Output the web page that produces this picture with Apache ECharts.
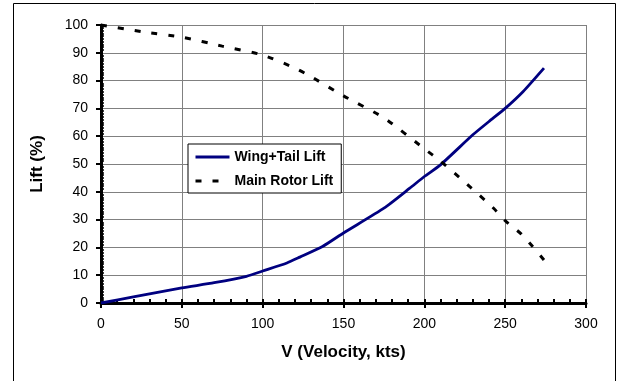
<!DOCTYPE html>
<html lang="en">

<head>
  <meta charset="UTF-8">
  <title>Lift vs Velocity</title>
  <script src="https://cdn.jsdelivr.net/npm/echarts@6/dist/echarts.min.js"></script>
  <style>
    html, body { margin: 0; padding: 0; background: #fff; }
  </style>
</head>

<body>
  <div id="main" style="width: 622px;height:381px;"></div>
  <script>
    var myChart = echarts.init(document.getElementById('main'));
    var font = "'Liberation Sans', Arial, sans-serif";

    // 读图估计的数据 (kts, %)
    var wingVel = [0, 20, 50, 70, 90, 100, 115, 123, 137, 150, 175, 191, 200, 210, 230, 240, 250, 261, 274];
    var wingLift = [0, 2.2, 5.4, 7.3, 9.6, 11.5, 14.4, 16.5, 20.3, 25.2, 34.1, 41.3, 45.5, 49.7, 60.5, 65.3, 70, 76, 84.5];
    var rotorVel = [0, 25, 50, 75, 100, 120, 130, 150, 175, 200, 210, 225, 243, 250, 260, 267, 274];
    var rotorLift = [100, 97.6, 95.6, 92.4, 89.2, 84.5, 81.4, 74.5, 66.6, 55.5, 51, 43.5, 34, 29.6, 24.8, 20.3, 15.5];
    var seriesNames = ['Wing+Tail Lift', 'Main Rotor Lift'];

    function pairs(xs, ys) {
      return xs.map(function (x, i) { return [x, ys[i]]; });
    }

    var option = {
      animation: false,
      textStyle: { fontFamily: font },
      grid: { left: 101, top: 25, right: 36, bottom: 78 },
      legend: {
        orient: 'vertical',
        left: 188,
        top: 144,
        padding: [6, 8, 5, 6],
        itemWidth: 34,
        itemHeight: 14,
        itemGap: 10,
        backgroundColor: '#fff',
        borderColor: '#000',
        borderWidth: 1,
        borderRadius: 0,
        itemStyle: { opacity: 0 }, // 图例里不要圆点
        lineStyle: { width: 3 },
        textStyle: { fontFamily: font, fontSize: 14, fontWeight: 'bold', color: '#000' },
        data: seriesNames
      },
      xAxis: [
        {
          type: 'value', min: 0, max: 300, interval: 50,
          name: 'V (Velocity, kts)', nameLocation: 'middle', nameGap: 41,
          nameTextStyle: { fontFamily: font, fontSize: 17, fontWeight: 'bold', color: '#000' },
          axisLine: { onZero: false, lineStyle: { color: '#000', width: 3 } },
          axisTick: { length: 5, lineStyle: { color: '#000', width: 2 } },
          axisLabel: { fontFamily: font, fontSize: 14, color: '#000', margin: 14 },
          splitLine: { lineStyle: { color: '#808080', width: 1 } }
        },
        {
          type: 'value', min: 0, max: 300, interval: 50, position: 'bottom',
          axisLine: { show: false },
          axisTick: { inside: true, length: 4, lineStyle: { color: '#000', width: 2 } },
          minorTick: { show: true, splitNumber: 5, length: 4, lineStyle: { color: '#000', width: 2 } },
          axisLabel: { show: false },
          splitLine: { show: false }
        }
      ],
      yAxis: [
        {
          type: 'value', min: 0, max: 100, interval: 10,
          name: 'Lift (%)', nameLocation: 'middle', nameGap: 55,
          nameTextStyle: { fontFamily: font, fontSize: 17, fontWeight: 'bold', color: '#000' },
          axisLine: { show: true, onZero: false, lineStyle: { color: '#000', width: 3 } },
          axisTick: { show: true, length: 5, lineStyle: { color: '#000', width: 2 } },
          axisLabel: { fontFamily: font, fontSize: 14, color: '#000', margin: 13 },
          splitLine: { lineStyle: { color: '#808080', width: 1 } }
        },
        {
          type: 'value', min: 0, max: 100, interval: 10, position: 'left',
          axisLine: { show: false },
          axisTick: { show: false, inside: true },
          minorTick: { show: true, splitNumber: 10, length: 3, lineStyle: { color: '#000', width: 1.5 } },
          axisLabel: { show: false },
          splitLine: { show: false }
        }
      ],
      series: [
        {
          name: seriesNames[0],
          type: 'line',
          data: pairs(wingVel, wingLift),
          symbol: 'none',
          smooth: 0.2,
          itemStyle: { color: '#000080' },
          lineStyle: { color: '#000080', width: 2.8 }
        },
        {
          name: seriesNames[1],
          type: 'line',
          data: pairs(rotorVel, rotorLift),
          symbol: 'none',
          smooth: 0.2,
          itemStyle: { color: '#000' },
          lineStyle: { color: '#000', width: 3, type: [6, 11] }
        }
      ],
      graphic: [
        {
          type: 'rect',
          shape: { x: 13.5, y: 3.5, width: 602, height: 400 },
          style: { fill: null, stroke: '#000', lineWidth: 1 },
          silent: true
        }
      ]
    };
    myChart.setOption(option);
  </script>
</body>

</html>
